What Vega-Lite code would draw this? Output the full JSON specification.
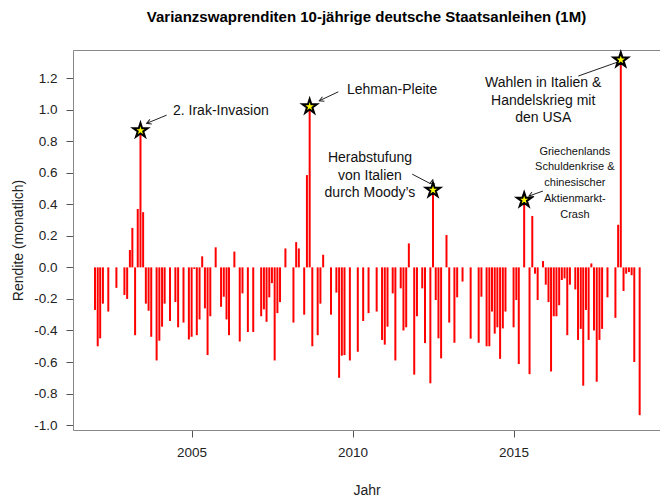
{
  "$schema": "https://vega.github.io/schema/vega-lite/v6.json",
  "width": 587,
  "height": 380,
  "autosize": {"type": "none"},
  "padding": {"left": 73, "top": 50, "right": 0, "bottom": 71},
  "config": {"font": "Liberation Sans", "view": {"stroke": null}, "axis": {"grid": false}},
  "title": {"text": "Varianzswaprenditen 10-jährige deutsche Staatsanleihen (1M)", "fontSize": 15, "fontWeight": "bold", "anchor": "middle", "offset": 23, "color": "#000"},
  "resolve": {"axis": {"x": "independent", "y": "independent"}},
  "datasets": {
    "rendite": [
      {"monat": "2002-01-01", "rendite": -0.27}, {"monat": "2002-02-01", "rendite": -0.50}, {"monat": "2002-03-01", "rendite": -0.45}, {"monat": "2002-04-01", "rendite": -0.23},
      {"monat": "2002-06-01", "rendite": -0.28}, {"monat": "2002-09-01", "rendite": -0.13}, {"monat": "2002-12-01", "rendite": -0.175},
      {"monat": "2003-01-01", "rendite": -0.20}, {"monat": "2003-02-01", "rendite": 0.11}, {"monat": "2003-03-01", "rendite": 0.25}, {"monat": "2003-04-01", "rendite": -0.43},
      {"monat": "2003-05-01", "rendite": 0.37}, {"monat": "2003-06-01", "rendite": 0.867}, {"monat": "2003-07-01", "rendite": 0.35}, {"monat": "2003-08-01", "rendite": -0.23},
      {"monat": "2003-09-01", "rendite": -0.275}, {"monat": "2003-10-01", "rendite": -0.44}, {"monat": "2003-12-01", "rendite": -0.59},
      {"monat": "2004-01-01", "rendite": -0.465}, {"monat": "2004-02-01", "rendite": -0.376}, {"monat": "2004-03-01", "rendite": -0.23}, {"monat": "2004-05-01", "rendite": -0.34},
      {"monat": "2004-07-01", "rendite": -0.22}, {"monat": "2004-08-01", "rendite": -0.38}, {"monat": "2004-10-01", "rendite": -0.35}, {"monat": "2004-12-01", "rendite": -0.457},
      {"monat": "2005-01-01", "rendite": -0.44}, {"monat": "2005-02-01", "rendite": -0.01}, {"monat": "2005-03-01", "rendite": -0.43}, {"monat": "2005-04-01", "rendite": -0.33},
      {"monat": "2005-05-01", "rendite": 0.07}, {"monat": "2005-06-01", "rendite": -0.26}, {"monat": "2005-07-01", "rendite": -0.556}, {"monat": "2005-08-01", "rendite": -0.31},
      {"monat": "2005-10-01", "rendite": 0.127}, {"monat": "2005-12-01", "rendite": -0.25},
      {"monat": "2006-01-01", "rendite": -0.186}, {"monat": "2006-02-01", "rendite": -0.33}, {"monat": "2006-03-01", "rendite": -0.43}, {"monat": "2006-05-01", "rendite": 0.10},
      {"monat": "2006-07-01", "rendite": -0.47}, {"monat": "2006-08-01", "rendite": -0.165}, {"monat": "2006-10-01", "rendite": -0.41}, {"monat": "2006-12-01", "rendite": -0.41},
      {"monat": "2007-03-01", "rendite": -0.31}, {"monat": "2007-04-01", "rendite": -0.266}, {"monat": "2007-05-01", "rendite": -0.345}, {"monat": "2007-06-01", "rendite": -0.19},
      {"monat": "2007-07-01", "rendite": -0.10}, {"monat": "2007-08-01", "rendite": -0.59}, {"monat": "2007-09-01", "rendite": -0.29}, {"monat": "2007-10-01", "rendite": -0.22},
      {"monat": "2007-12-01", "rendite": 0.12},
      {"monat": "2008-03-01", "rendite": -0.35}, {"monat": "2008-04-01", "rendite": 0.16}, {"monat": "2008-05-01", "rendite": 0.12}, {"monat": "2008-07-01", "rendite": -0.30},
      {"monat": "2008-08-01", "rendite": 0.585}, {"monat": "2008-09-01", "rendite": 1.019}, {"monat": "2008-10-01", "rendite": -0.50}, {"monat": "2008-12-01", "rendite": -0.43},
      {"monat": "2009-01-01", "rendite": -0.23}, {"monat": "2009-02-01", "rendite": 0.08}, {"monat": "2009-05-01", "rendite": -0.30}, {"monat": "2009-07-01", "rendite": -0.16},
      {"monat": "2009-08-01", "rendite": -0.70}, {"monat": "2009-09-01", "rendite": -0.56}, {"monat": "2009-10-01", "rendite": -0.556}, {"monat": "2009-12-01", "rendite": -0.59},
      {"monat": "2010-03-01", "rendite": -0.535}, {"monat": "2010-05-01", "rendite": -0.34}, {"monat": "2010-07-01", "rendite": -0.29}, {"monat": "2010-10-01", "rendite": -0.28},
      {"monat": "2010-12-01", "rendite": -0.46},
      {"monat": "2011-01-01", "rendite": -0.49}, {"monat": "2011-02-01", "rendite": -0.376}, {"monat": "2011-04-01", "rendite": -0.165}, {"monat": "2011-05-01", "rendite": -0.59},
      {"monat": "2011-07-01", "rendite": -0.133}, {"monat": "2011-08-01", "rendite": -0.40}, {"monat": "2011-09-01", "rendite": -0.38}, {"monat": "2011-10-01", "rendite": 0.152},
      {"monat": "2011-12-01", "rendite": -0.68},
      {"monat": "2012-01-01", "rendite": -0.31}, {"monat": "2012-03-01", "rendite": -0.133}, {"monat": "2012-04-01", "rendite": -0.48}, {"monat": "2012-06-01", "rendite": -0.735},
      {"monat": "2012-07-01", "rendite": 0.49}, {"monat": "2012-08-01", "rendite": -0.207}, {"monat": "2012-09-01", "rendite": -0.45}, {"monat": "2012-10-01", "rendite": -0.577},
      {"monat": "2012-12-01", "rendite": 0.205},
      {"monat": "2013-01-01", "rendite": -0.35}, {"monat": "2013-03-01", "rendite": -0.478}, {"monat": "2013-04-01", "rendite": -0.19}, {"monat": "2013-06-01", "rendite": -0.09},
      {"monat": "2013-09-01", "rendite": -0.452}, {"monat": "2013-12-01", "rendite": -0.478},
      {"monat": "2014-01-01", "rendite": -0.186}, {"monat": "2014-03-01", "rendite": -0.50}, {"monat": "2014-04-01", "rendite": -0.50}, {"monat": "2014-05-01", "rendite": -0.28},
      {"monat": "2014-06-01", "rendite": -0.42}, {"monat": "2014-07-01", "rendite": -0.38}, {"monat": "2014-08-01", "rendite": -0.58}, {"monat": "2014-09-01", "rendite": -0.387},
      {"monat": "2014-10-01", "rendite": -0.28},
      {"monat": "2015-01-01", "rendite": -0.38}, {"monat": "2015-02-01", "rendite": -0.207}, {"monat": "2015-03-01", "rendite": -0.613}, {"monat": "2015-05-01", "rendite": 0.427},
      {"monat": "2015-07-01", "rendite": -0.677}, {"monat": "2015-08-01", "rendite": 0.326}, {"monat": "2015-09-01", "rendite": -0.04}, {"monat": "2015-10-01", "rendite": -0.207},
      {"monat": "2015-12-01", "rendite": 0.04},
      {"monat": "2016-01-01", "rendite": -0.11}, {"monat": "2016-02-01", "rendite": -0.22}, {"monat": "2016-03-01", "rendite": -0.66}, {"monat": "2016-04-01", "rendite": -0.31},
      {"monat": "2016-05-01", "rendite": -0.31}, {"monat": "2016-06-01", "rendite": -0.24}, {"monat": "2016-07-01", "rendite": -0.08}, {"monat": "2016-08-01", "rendite": -0.07},
      {"monat": "2016-09-01", "rendite": -0.43}, {"monat": "2016-10-01", "rendite": -0.11}, {"monat": "2016-12-01", "rendite": -0.14},
      {"monat": "2017-01-01", "rendite": -0.46}, {"monat": "2017-02-01", "rendite": -0.39}, {"monat": "2017-03-01", "rendite": -0.75}, {"monat": "2017-04-01", "rendite": -0.27},
      {"monat": "2017-05-01", "rendite": -0.46}, {"monat": "2017-06-01", "rendite": 0.025}, {"monat": "2017-07-01", "rendite": -0.40}, {"monat": "2017-08-01", "rendite": -0.725},
      {"monat": "2017-09-01", "rendite": -0.46}, {"monat": "2017-10-01", "rendite": -0.39}, {"monat": "2017-12-01", "rendite": -0.19},
      {"monat": "2018-03-01", "rendite": -0.32}, {"monat": "2018-04-01", "rendite": 0.27}, {"monat": "2018-05-01", "rendite": 1.315}, {"monat": "2018-06-01", "rendite": -0.15},
      {"monat": "2018-07-01", "rendite": -0.04}, {"monat": "2018-08-01", "rendite": -0.03}, {"monat": "2018-09-01", "rendite": -0.05}, {"monat": "2018-10-01", "rendite": -0.60},
      {"monat": "2018-12-01", "rendite": -0.937}
    ],
    "ereignisse": [
      {"ereignis": "Irak", "datum": "2003-06-01", "rendite": 0.867, "text": "2. Irak-Invasion", "text_datum": "2004-06-04", "text_rendite": 0.993, "pfeil_datum": "2004-03-24", "pfeil_rendite": 0.965, "spitze_datum": "2003-08-10", "spitze_rendite": 0.913},
      {"ereignis": "Lehman", "datum": "2008-09-01", "rendite": 1.019, "text": "Lehman-Pleite", "text_datum": "2009-10-29", "text_rendite": 1.124, "pfeil_datum": "2009-07-23", "pfeil_rendite": 1.113, "spitze_datum": "2008-12-19", "spitze_rendite": 1.056},
      {"ereignis": "Moody", "datum": "2012-07-01", "rendite": 0.49, "text": "Herabstufung\nvon Italien\ndurch Moody’s", "text_datum": "2010-07-17", "text_rendite": 0.691, "pfeil_datum": "2011-11-08", "pfeil_rendite": 0.591, "spitze_datum": "2012-05-28", "spitze_rendite": 0.532},
      {"ereignis": "Griechenland", "datum": "2015-05-01", "rendite": 0.427, "text": "Griechenlands\nSchuldenkrise &\nchinesischer\nAktienmarkt-\nCrash", "text_datum": "2016-11-26", "text_rendite": 0.733, "pfeil_datum": "2015-11-30", "pfeil_rendite": 0.484, "spitze_datum": "2015-06-24", "spitze_rendite": 0.452},
      {"ereignis": "Wahlen", "datum": "2018-05-01", "rendite": 1.315, "text": "Wahlen in Italien &\nHandelskrieg mit\nden USA", "text_datum": "2015-12-03", "text_rendite": 1.166, "pfeil_datum": "2017-01-04", "pfeil_rendite": 1.213, "spitze_datum": "2018-04-03", "spitze_rendite": 1.303}
    ]
  },
  "layer": [
    {
      "data": {"name": "rendite"},
      "mark": {"type": "rule", "color": "#FF0000", "strokeWidth": 2},
      "encoding": {
        "x": {
          "field": "monat", "type": "temporal",
          "scale": {"domain": [{"year": 2001, "month": 4, "date": 26, "hours": 16}, {"year": 2019, "month": 7, "date": 19, "hours": 17}]},
          "axis": {"orient": "bottom", "values": [{"year": 2005}, {"year": 2010}, {"year": 2015}], "format": "%Y", "tickSize": 7, "tickColor": "#555", "domainColor": "#888", "labelFontSize": 13.5, "labelColor": "#222", "labelPadding": 8, "labelFlush": false, "labelOverlap": false, "title": "Jahr", "titleFontSize": 14, "titleFontWeight": "normal", "titleColor": "#222", "titleX": 293.5, "titleY": 60, "titleBaseline": "middle", "titleAlign": "center"}
        },
        "y": {
          "field": "rendite", "type": "quantitative",
          "scale": {"domain": [-1.031, 1.378], "nice": false, "zero": false},
          "axis": {"orient": "left", "values": [-1, -0.8, -0.6, -0.4, -0.2, 0, 0.2, 0.4, 0.6, 0.8, 1, 1.2], "format": ".1f", "labelExpr": "replace(datum.label, '\u2212', '-')", "labelOverlap": false, "tickSize": 7, "tickColor": "#555", "domainColor": "#888", "labelFontSize": 13.5, "labelColor": "#222", "labelPadding": 9, "title": "Rendite (monatlich)", "titleFontSize": 14, "titleFontWeight": "normal", "titleColor": "#222", "titleX": -55, "titleY": 190, "titleAngle": -90, "titleAlign": "center", "titleBaseline": "middle"}
        },
        "y2": {"datum": 0}
      }
    },
    {
      "data": {"name": "ereignisse"},
      "mark": {"type": "rule", "color": "#222", "strokeWidth": 1},
      "encoding": {
        "x": {"field": "pfeil_datum", "type": "temporal", "axis": null},
        "y": {"field": "pfeil_rendite", "type": "quantitative", "axis": null},
        "x2": {"field": "spitze_datum"},
        "y2": {"field": "spitze_rendite"}
      }
    },
    {
      "data": {"name": "ereignisse"},
      "mark": {"type": "point", "shape": "M-0.5,0.9L0,0L0.5,0.9", "filled": false, "stroke": "#222", "strokeWidth": 1, "size": 100, "opacity": 1},
      "encoding": {
        "x": {"field": "spitze_datum", "type": "temporal", "axis": null},
        "y": {"field": "spitze_rendite", "type": "quantitative", "axis": null},
        "angle": {"field": "ereignis", "type": "nominal", "scale": {"domain": ["Irak", "Lehman", "Moody", "Griechenland", "Wahlen"], "range": [247.5, 244.7, 117.7, 250.3, 69.6]}, "legend": null}
      }
    },
    {
      "data": {"name": "ereignisse"},
      "mark": {"type": "point", "shape": "M0,-1L0.2245,-0.309L0.9511,-0.309L0.3633,0.118L0.5878,0.809L0,0.382L-0.5878,0.809L-0.3633,0.118L-0.9511,-0.309L-0.2245,-0.309Z", "filled": true, "fill": "#FFFF00", "stroke": "#000", "opacity": 1},
      "encoding": {
        "x": {"field": "datum", "type": "temporal", "axis": {"orient": "top", "labels": false, "ticks": false, "domain": true, "domainColor": "#888", "title": null, "values": []}},
        "y": {"field": "rendite", "type": "quantitative", "axis": null},
        "size": {"field": "ereignis", "type": "nominal", "scale": {"domain": ["Irak", "Lehman", "Moody", "Griechenland", "Wahlen"], "range": [230, 230, 230, 110, 230]}, "legend": null},
        "strokeWidth": {"field": "ereignis", "type": "nominal", "scale": {"domain": ["Irak", "Lehman", "Moody", "Griechenland", "Wahlen"], "range": [2, 2, 2, 1, 2]}, "legend": null}
      }
    },
    {
      "data": {"name": "ereignisse"},
      "transform": [{"filter": {"field": "ereignis", "oneOf": ["Irak", "Lehman"]}}],
      "mark": {"type": "text", "align": "left", "baseline": "middle", "fontSize": 14, "color": "#111", "lineBreak": "\n"},
      "encoding": {
        "x": {"field": "text_datum", "type": "temporal", "axis": null},
        "y": {"field": "text_rendite", "type": "quantitative", "axis": null},
        "text": {"field": "text", "type": "nominal"}
      }
    },
    {
      "data": {"name": "ereignisse"},
      "transform": [{"filter": {"field": "ereignis", "oneOf": ["Moody", "Wahlen"]}}],
      "mark": {"type": "text", "align": "center", "baseline": "middle", "fontSize": 14, "lineHeight": 17.5, "color": "#111", "lineBreak": "\n"},
      "encoding": {
        "x": {"field": "text_datum", "type": "temporal", "axis": null},
        "y": {"field": "text_rendite", "type": "quantitative", "axis": null},
        "text": {"field": "text", "type": "nominal"}
      }
    },
    {
      "data": {"name": "ereignisse"},
      "transform": [{"filter": {"field": "ereignis", "equal": "Griechenland"}}],
      "mark": {"type": "text", "align": "center", "baseline": "middle", "fontSize": 11, "lineHeight": 15.7, "color": "#111", "lineBreak": "\n"},
      "encoding": {
        "x": {"field": "text_datum", "type": "temporal", "axis": null},
        "y": {"field": "text_rendite", "type": "quantitative", "axis": null},
        "text": {"field": "text", "type": "nominal"}
      }
    }
  ]
}
